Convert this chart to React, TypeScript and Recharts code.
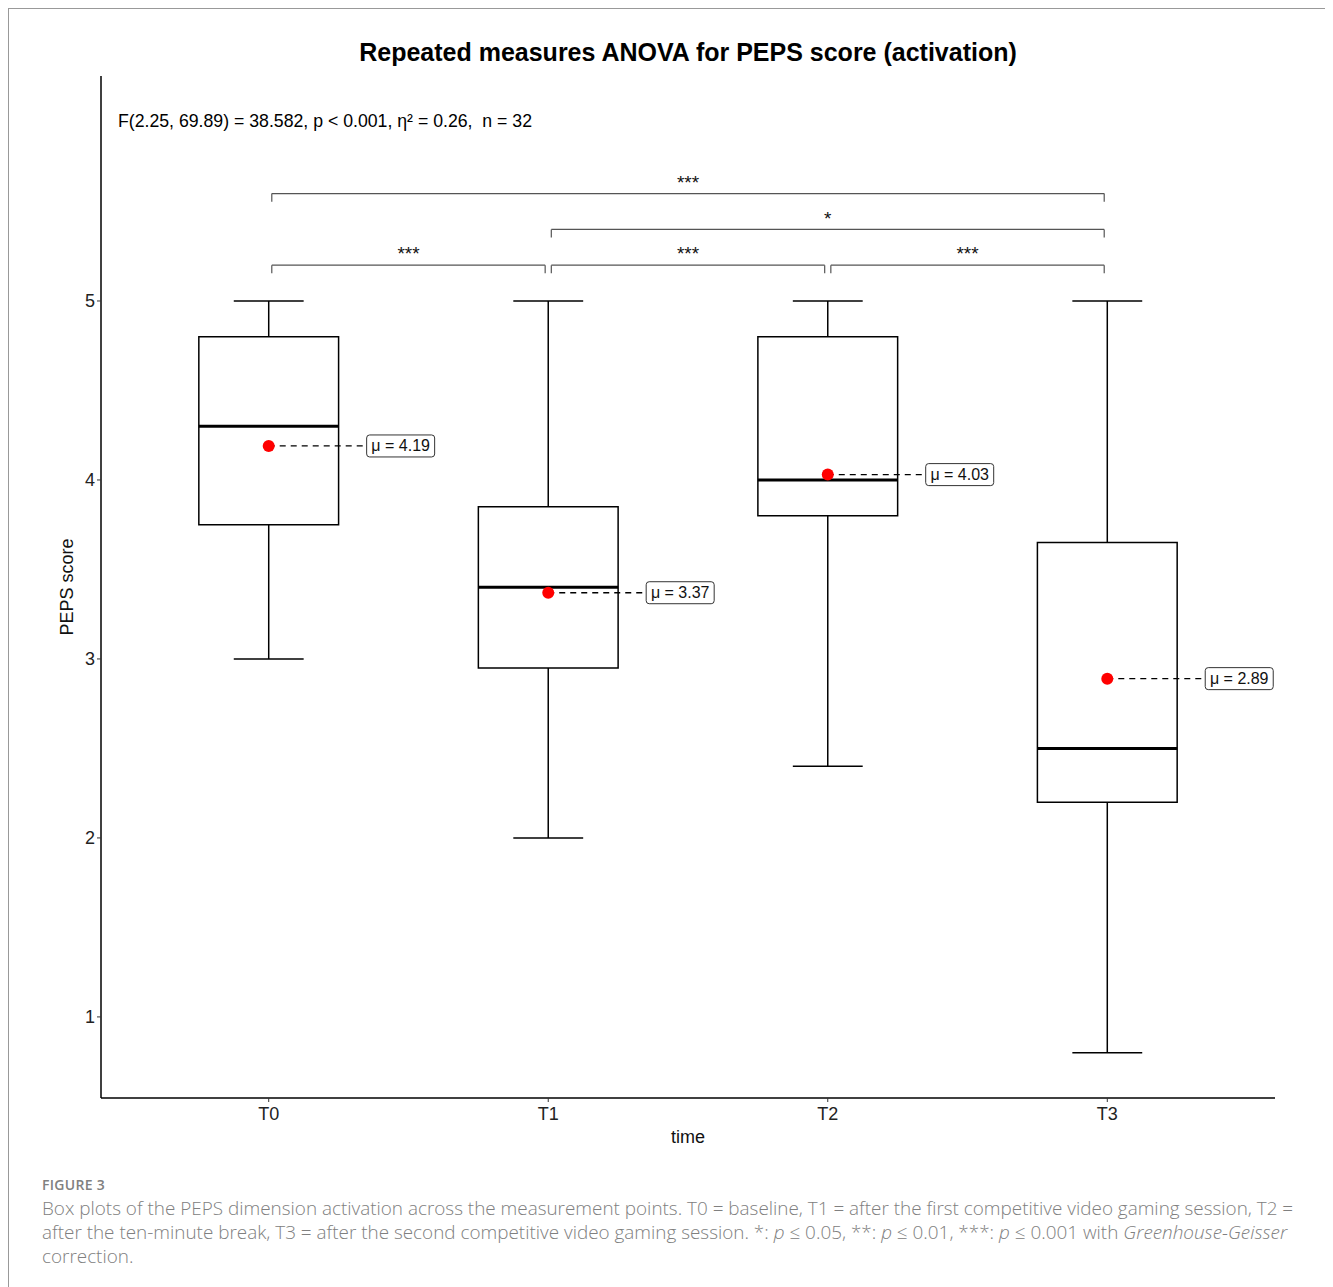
import { ComposedChart, XAxis, YAxis, Scatter, ReferenceArea, ReferenceLine, ReferenceDot } from 'recharts'

const categories = ['T0', 'T1', 'T2', 'T3']
const mins = [3, 2, 2.4, 0.8]
const q1s = [3.75, 2.95, 3.8, 2.2]
const medians = [4.3, 3.4, 4.0, 2.5]
const q3s = [4.8, 3.85, 4.8, 3.65]
const maxs = [5, 5, 5, 5]
const means = [4.19, 3.37, 4.03, 2.89]
const yTicks = [1, 2, 3, 4, 5]

// pairwise comparisons: from, to, bracket height, label
const pairFrom = [0, 1, 2, 1, 0]
const pairTo = [1, 2, 3, 3, 3]
const pairLevel = [5.2, 5.2, 5.2, 5.4, 5.6]
const pairLabel = ['***', '***', '***', '*', '***']

const font = '"Liberation Sans", Arial, sans-serif'

const meanData = means.map((m, i) => ({ x: i, y: m }))

const MeanDot = (props: any) => <circle cx={props.cx} cy={props.cy} r={6} fill="#ff0000" />

const MeanLabel = (text: string) => (props: any) => (
  <g>
    <rect x={props.cx - 34} y={props.cy - 11} width={68} height={22} rx={3} fill="#fff" stroke="#333" strokeWidth={1} />
    <text x={props.cx} y={props.cy + 1} textAnchor="middle" dominantBaseline="middle" fontSize={16} fontFamily={font} fill="#111">{text}</text>
  </g>
)

const Stars = (text: string) => (props: any) => (
  <text x={props.cx} y={props.cy} textAnchor="middle" dominantBaseline="middle" fontSize={19} fontFamily={font} fill="#111">{text}</text>
)

export default function App() {
  return (
    <div style={{ position: 'relative', width: 1320, height: 1290, borderTop: '1px solid #999', borderLeft: '1px solid #999', borderRight: '1px solid #999', background: '#fff' }}>
      <div style={{ position: 'absolute', left: 92, width: 1174, top: 29, textAlign: 'center', fontFamily: font, fontWeight: 'bold', fontSize: 25, color: '#000' }}>
        Repeated measures ANOVA for PEPS score (activation)
      </div>
      <div style={{ position: 'absolute', left: 109, top: 102, fontFamily: font, fontSize: 17.7, color: '#000', whiteSpace: 'pre' }}>
        {'F(2.25, 69.89) = 38.582, p < 0.001, η² = 0.26,  n = 32'}
      </div>
      <div style={{ position: 'absolute', left: 0, top: 0 }}>
        <ComposedChart width={1320} height={1160} margin={{ top: 67, right: 54, bottom: 21, left: 32 }}>
          <XAxis
            type="number"
            dataKey="x"
            domain={[-0.6, 3.6]}
            ticks={[0, 1, 2, 3]}
            tickFormatter={(v: number) => categories[v]}
            allowDataOverflow
            height={50}
            axisLine={{ stroke: '#000', strokeWidth: 1.5 }}
            tickLine={{ stroke: '#333' }}
            tickSize={4}
            tickMargin={5}
            tick={{ fill: '#222', fontSize: 18, fontFamily: font }}
            label={{
              content: (p: any) => (
                <text x={p.viewBox.x + p.viewBox.width / 2} y={p.viewBox.y + 40} textAnchor="middle" dominantBaseline="middle" fontSize={18} fontFamily={font} fill="#111">time</text>
              ),
            }}
          />
          <YAxis
            type="number"
            dataKey="y"
            domain={[0.547, 6.257]}
            ticks={yTicks}
            allowDataOverflow
            width={60}
            axisLine={{ stroke: '#000', strokeWidth: 1.5 }}
            tickLine={{ stroke: '#333' }}
            tickSize={4}
            tick={{ fill: '#222', fontSize: 18, fontFamily: font }}
            label={{
              content: (p: any) => {
                const x = p.viewBox.x + 27
                const y = p.viewBox.y + p.viewBox.height / 2
                return (
                  <text x={x} y={y} transform={`rotate(-90 ${x} ${y})`} textAnchor="middle" dominantBaseline="middle" fontSize={18} fontFamily={font} fill="#111">PEPS score</text>
                )
              },
            }}
          />

          {categories.map((c, i) => (
            <ReferenceLine key={'wu' + c} segment={[{ x: i, y: q3s[i] }, { x: i, y: maxs[i] }]} stroke="#000" strokeWidth={1.5} />
          ))}
          {categories.map((c, i) => (
            <ReferenceLine key={'wl' + c} segment={[{ x: i, y: q1s[i] }, { x: i, y: mins[i] }]} stroke="#000" strokeWidth={1.5} />
          ))}
          {categories.map((c, i) => (
            <ReferenceLine key={'cu' + c} segment={[{ x: i - 0.125, y: maxs[i] }, { x: i + 0.125, y: maxs[i] }]} stroke="#000" strokeWidth={1.5} />
          ))}
          {categories.map((c, i) => (
            <ReferenceLine key={'cl' + c} segment={[{ x: i - 0.125, y: mins[i] }, { x: i + 0.125, y: mins[i] }]} stroke="#000" strokeWidth={1.5} />
          ))}
          {categories.map((c, i) => (
            <ReferenceArea key={'box' + c} x1={i - 0.25} x2={i + 0.25} y1={q1s[i]} y2={q3s[i]} fill="#fff" fillOpacity={1} stroke="#000" strokeWidth={1.5} />
          ))}
          {categories.map((c, i) => (
            <ReferenceLine key={'med' + c} segment={[{ x: i - 0.25, y: medians[i] }, { x: i + 0.25, y: medians[i] }]} stroke="#000" strokeWidth={3} />
          ))}
          {categories.map((c, i) => (
            <ReferenceLine key={'ml' + c} segment={[{ x: i, y: means[i] }, { x: i + 0.35, y: means[i] }]} stroke="#000" strokeWidth={1.3} strokeDasharray="6 5" />
          ))}
          {categories.map((c, i) => (
            <ReferenceDot key={'lab' + c} x={i + 0.472} y={means[i]} r={0} shape={MeanLabel(`μ = ${means[i].toFixed(2)}`)} />
          ))}

          {pairFrom.map((a, k) => (
            <ReferenceLine key={'bh' + k} segment={[{ x: a + 0.011, y: pairLevel[k] }, { x: pairTo[k] - 0.011, y: pairLevel[k] }]} stroke="#555" strokeWidth={1.2} />
          ))}
          {pairFrom.map((a, k) => (
            <ReferenceLine key={'bl' + k} segment={[{ x: a + 0.011, y: pairLevel[k] }, { x: a + 0.011, y: pairLevel[k] - 0.045 }]} stroke="#555" strokeWidth={1.2} />
          ))}
          {pairFrom.map((a, k) => (
            <ReferenceLine key={'br' + k} segment={[{ x: pairTo[k] - 0.011, y: pairLevel[k] }, { x: pairTo[k] - 0.011, y: pairLevel[k] - 0.045 }]} stroke="#555" strokeWidth={1.2} />
          ))}
          {pairFrom.map((a, k) => (
            <ReferenceDot key={'bs' + k} x={(a + pairTo[k]) / 2} y={pairLevel[k] + 0.055} r={0} shape={Stars(pairLabel[k])} />
          ))}

          <Scatter data={meanData} dataKey="y" shape={MeanDot} isAnimationActive={false} />
        </ComposedChart>
      </div>
      <div style={{ position: 'absolute', left: 33, top: 1166, width: 1290, fontFamily: '"Open Sans", sans-serif', color: '#808080', whiteSpace: 'nowrap' }}>
        <div style={{ fontSize: 14, fontWeight: 600, letterSpacing: 0.3, marginBottom: 2 }}>FIGURE 3</div>
        <div style={{ fontSize: 18.9, fontWeight: 300, lineHeight: '24px' }}>
          <div>Box plots of the PEPS dimension activation across the measurement points. T0 = baseline, T1 = after the first competitive video gaming session, T2 =</div>
          <div>after the ten-minute break, T3 = after the second competitive video gaming session. *: <i>p</i> ≤ 0.05, **: <i>p</i> ≤ 0.01, ***: <i>p</i> ≤ 0.001 with <i>Greenhouse-Geisser</i></div>
          <div>correction.</div>
        </div>
      </div>
    </div>
  )
}
